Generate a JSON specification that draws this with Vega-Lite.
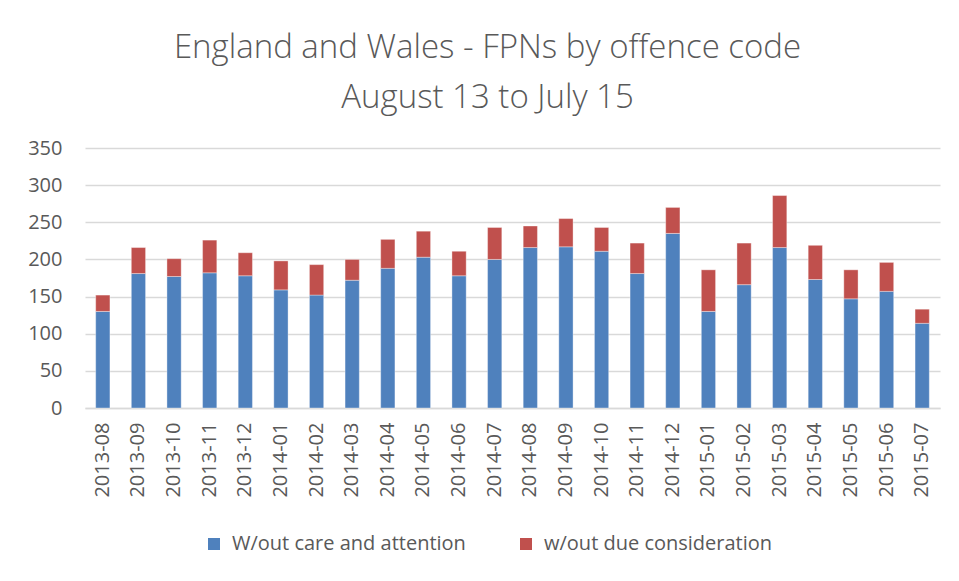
{
  "$schema": "https://vega.github.io/schema/vega-lite/v6.json",
  "autosize": "none",
  "width": 855,
  "height": 260,
  "padding": {"left": 85, "top": 148, "right": 19, "bottom": 173},
  "background": "white",
  "title": {
    "text": ["England and Wales - FPNs by offence code", "August 13 to July 15"],
    "anchor": "middle",
    "dx": -25,
    "offset": 23,
    "font": "Open Sans",
    "fontWeight": 300,
    "fontSize": 33,
    "lineHeight": 50,
    "color": "#595959"
  },
  "data": {
    "values": [
      {"month": "2013-08", "type": "W/out care and attention", "count": 130},
      {"month": "2013-08", "type": "w/out due consideration", "count": 22},
      {"month": "2013-09", "type": "W/out care and attention", "count": 181},
      {"month": "2013-09", "type": "w/out due consideration", "count": 35},
      {"month": "2013-10", "type": "W/out care and attention", "count": 177},
      {"month": "2013-10", "type": "w/out due consideration", "count": 24},
      {"month": "2013-11", "type": "W/out care and attention", "count": 182},
      {"month": "2013-11", "type": "w/out due consideration", "count": 44},
      {"month": "2013-12", "type": "W/out care and attention", "count": 178},
      {"month": "2013-12", "type": "w/out due consideration", "count": 31},
      {"month": "2014-01", "type": "W/out care and attention", "count": 159},
      {"month": "2014-01", "type": "w/out due consideration", "count": 39},
      {"month": "2014-02", "type": "W/out care and attention", "count": 152},
      {"month": "2014-02", "type": "w/out due consideration", "count": 41},
      {"month": "2014-03", "type": "W/out care and attention", "count": 172},
      {"month": "2014-03", "type": "w/out due consideration", "count": 28},
      {"month": "2014-04", "type": "W/out care and attention", "count": 188},
      {"month": "2014-04", "type": "w/out due consideration", "count": 39},
      {"month": "2014-05", "type": "W/out care and attention", "count": 203},
      {"month": "2014-05", "type": "w/out due consideration", "count": 35},
      {"month": "2014-06", "type": "W/out care and attention", "count": 178},
      {"month": "2014-06", "type": "w/out due consideration", "count": 33},
      {"month": "2014-07", "type": "W/out care and attention", "count": 200},
      {"month": "2014-07", "type": "w/out due consideration", "count": 43},
      {"month": "2014-08", "type": "W/out care and attention", "count": 216},
      {"month": "2014-08", "type": "w/out due consideration", "count": 29},
      {"month": "2014-09", "type": "W/out care and attention", "count": 217},
      {"month": "2014-09", "type": "w/out due consideration", "count": 38},
      {"month": "2014-10", "type": "W/out care and attention", "count": 211},
      {"month": "2014-10", "type": "w/out due consideration", "count": 32},
      {"month": "2014-11", "type": "W/out care and attention", "count": 181},
      {"month": "2014-11", "type": "w/out due consideration", "count": 41},
      {"month": "2014-12", "type": "W/out care and attention", "count": 235},
      {"month": "2014-12", "type": "w/out due consideration", "count": 35},
      {"month": "2015-01", "type": "W/out care and attention", "count": 130},
      {"month": "2015-01", "type": "w/out due consideration", "count": 56},
      {"month": "2015-02", "type": "W/out care and attention", "count": 166},
      {"month": "2015-02", "type": "w/out due consideration", "count": 56},
      {"month": "2015-03", "type": "W/out care and attention", "count": 216},
      {"month": "2015-03", "type": "w/out due consideration", "count": 70},
      {"month": "2015-04", "type": "W/out care and attention", "count": 173},
      {"month": "2015-04", "type": "w/out due consideration", "count": 46},
      {"month": "2015-05", "type": "W/out care and attention", "count": 147},
      {"month": "2015-05", "type": "w/out due consideration", "count": 39},
      {"month": "2015-06", "type": "W/out care and attention", "count": 157},
      {"month": "2015-06", "type": "w/out due consideration", "count": 39},
      {"month": "2015-07", "type": "W/out care and attention", "count": 114},
      {"month": "2015-07", "type": "w/out due consideration", "count": 19}
    ]
  },
  "mark": {"type": "bar", "stroke": "white", "strokeWidth": 0.6, "strokeOpacity": 0.6},
  "encoding": {
    "x": {
      "field": "month",
      "type": "nominal",
      "scale": {"paddingInner": 0.6, "paddingOuter": 0.3},
      "axis": {
        "title": null,
        "labelAngle": 270,
        "labelFont": "Open Sans",
        "labelFontSize": 20,
        "labelColor": "#595959",
        "labelPadding": 14,
        "ticks": false,
        "domainColor": "#d9d9d9",
        "domainWidth": 1.5
      }
    },
    "y": {
      "field": "count",
      "type": "quantitative",
      "stack": "zero",
      "scale": {"domain": [0, 350], "nice": false},
      "axis": {
        "title": null,
        "values": [0, 50, 100, 150, 200, 250, 300, 350],
        "labelFont": "Open Sans",
        "labelFontSize": 20,
        "labelColor": "#595959",
        "labelPadding": 23,
        "ticks": false,
        "domain": false,
        "gridColor": "#d9d9d9",
        "gridWidth": 1.5
      }
    },
    "color": {
      "field": "type",
      "type": "nominal",
      "scale": {
        "domain": ["W/out care and attention", "w/out due consideration"],
        "range": ["#4f81bd", "#c0504d"]
      },
      "legend": {
        "title": null,
        "orient": "none",
        "direction": "horizontal",
        "legendX": 119,
        "legendY": 386,
        "padding": 0,
        "symbolType": "square",
        "symbolSize": 144,
        "symbolStrokeWidth": 0,
        "labelFont": "Open Sans",
        "labelFontSize": 20,
        "labelColor": "#595959",
        "labelOffset": 8,
        "labelLimit": 0,
        "columnPadding": 50
      }
    },
    "order": {"field": "type", "sort": "ascending"}
  },
  "config": {"view": {"stroke": null}}
}
